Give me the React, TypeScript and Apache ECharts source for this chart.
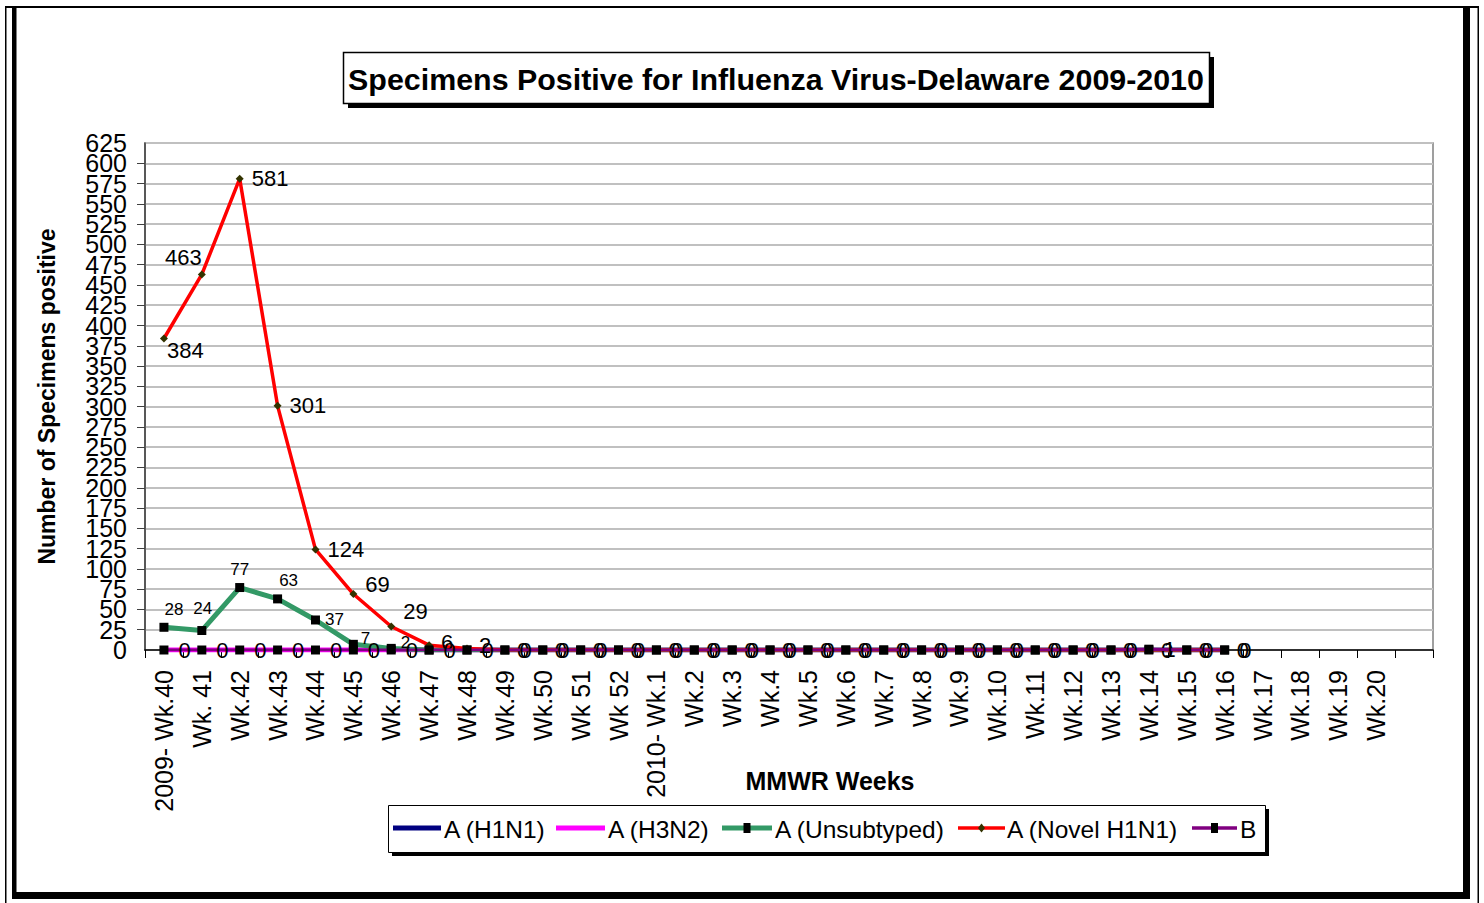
import { useEffect, useRef } from "react";
import * as echarts from "echarts";

const categories = [
  "2009- Wk.40", "Wk. 41", "Wk.42", "Wk.43", "Wk.44", "Wk.45", "Wk.46", "Wk.47",
  "Wk.48", "Wk.49", "Wk.50", "Wk 51", "Wk 52", "2010- Wk.1", "Wk.2", "Wk.3",
  "Wk.4", "Wk.5", "Wk.6", "Wk.7", "Wk.8", "Wk.9", "Wk.10", "Wk.11", "Wk.12",
  "Wk.13", "Wk.14", "Wk.15", "Wk.16", "Wk.17", "Wk.18", "Wk.19", "Wk.20", "",
];

const h1n1 = [0, 0, 0, 0, 0, 0, 0, 0, 0, 0, 0, 0, 0, 0, 0, 0, 0, 0, 0, 0, 0, 0, 0, 0, 0, 0, 0, 0, 0];
const h3n2 = [0, 0, 0, 0, 0, 0, 0, 0, 0, 0, 0, 0, 0, 0, 0, 0, 0, 0, 0, 0, 0, 0, 0, 0, 0, 0, 0, 0, 0];
const unsubtyped = [28, 24, 77, 63, 37, 7, 2, 0, 0, 0, 0, 0, 0, 0, 0, 0, 0, 0, 0, 0, 0, 0, 0, 0, 0, 0, 0, 0, 0];
const novelH1N1 = [384, 463, 581, 301, 124, 69, 29, 6, 2, 0, 0, 0, 0, 0, 0, 0, 0, 0, 0, 0, 0, 0, 0, 0, 0, 0, 0, 0, 0];
const typeB = [0, 0, 0, 0, 0, 0, 0, 0, 0, 0, 0, 0, 0, 0, 0, 0, 0, 0, 0, 0, 0, 0, 0, 0, 0, 0, 1, 0, 0];

const seriesNames = ["A (H1N1)", "A (H3N2)", "A (Unsubtyped)", "A (Novel H1N1)", "B"];
const seriesColors = ["#000080", "#FF00FF", "#339966", "#FF0000", "#800080"];
const yTicks = { min: 0, max: 625, interval: 25 };

const FONT = "'Liberation Sans', Arial, sans-serif";

// label placement tweaks (styles, not data)
const redOffsets: Record<number, { pos: string; off: number[] }> = {
  0: { pos: "right", off: [-9, 12] },
  1: { pos: "left", off: [12, -17] },
  5: { pos: "right", off: [0, -10] },
  6: { pos: "right", off: [0, -15] },
  7: { pos: "right", off: [0, -3] },
  8: { pos: "right", off: [0, -3] },
};
const greenOffsets: Record<number, { pos: string; off: number[] }> = {
  0: { pos: "top", off: [10, 0] },
  1: { pos: "top", off: [1, -4] },
  3: { pos: "top", off: [11, 0] },
  4: { pos: "right", off: [0, 0] },
  5: { pos: "right", off: [-2, -6] },
  6: { pos: "right", off: [0, -6] },
};

// legend layout (pixel styling)
const legendItems = [
  { x0: 393, x1: 441, tx: 444, w: 5, marker: "none" },
  { x0: 556, x1: 605, tx: 608, w: 5, marker: "none" },
  { x0: 722, x1: 772, tx: 775, w: 5, marker: "square" },
  { x0: 958, x1: 1005, tx: 1007, w: 3.5, marker: "diamond" },
  { x0: 1192, x1: 1237, tx: 1240, w: 3.5, marker: "square" },
];
const LEG_Y = 828;

export default function App() {
  const ref = useRef<HTMLDivElement>(null);
  useEffect(() => {
    if (!ref.current) return;
    const chart = echarts.init(ref.current, null, { renderer: "svg" });

    const zeroLabel = {
      show: true,
      position: "right",
      distance: 10,
      color: "#000",
      fontSize: 22,
      fontFamily: FONT,
    };

    const redData = novelH1N1.map((v, i) =>
      redOffsets[i]
        ? { value: v, label: { position: redOffsets[i].pos, offset: redOffsets[i].off } }
        : v
    );
    const greenData = unsubtyped.map((v, i) =>
      greenOffsets[i]
        ? { value: v, label: { position: greenOffsets[i].pos, offset: greenOffsets[i].off } }
        : v
    );

    const legendGraphics: any[] = [];
    legendItems.forEach((it, i) => {
      legendGraphics.push({
        type: "line", z: 5,
        shape: { x1: it.x0, y1: LEG_Y, x2: it.x1, y2: LEG_Y },
        style: { stroke: seriesColors[i], lineWidth: it.w },
      });
      const cx = (it.x0 + it.x1) / 2;
      if (it.marker === "square") {
        legendGraphics.push({
          type: "rect", z: 6,
          shape: { x: cx - 3.5, y: LEG_Y - 5, width: 7, height: 10 },
          style: { fill: "#000" },
        });
      } else if (it.marker === "diamond") {
        legendGraphics.push({
          type: "polygon", z: 6,
          shape: { points: [[cx, LEG_Y - 4.5], [cx + 3.5, LEG_Y], [cx, LEG_Y + 4.5], [cx - 3.5, LEG_Y]] },
          style: { fill: "#333300" },
        });
      }
      legendGraphics.push({
        type: "text", z: 6, x: it.tx, y: LEG_Y + 1,
        style: {
          text: seriesNames[i], fontSize: 24.5, fontFamily: FONT, fill: "#000",
          textAlign: "left", textVerticalAlign: "middle",
        },
      });
    });

    const yBase = {
      type: "value",
      min: yTicks.min,
      max: yTicks.max,
      interval: yTicks.interval,
      position: "left",
      offset: 0,
    };

    const option: any = {
      animation: false,
      backgroundColor: "#fff",
      textStyle: { fontFamily: FONT },
      graphic: [
        // outer frame
        { type: "rect", z: 0, shape: { x: 5, y: 6, width: 1474, height: 2 }, style: { fill: "#000" } },
        { type: "rect", z: 0, shape: { x: 5, y: 6, width: 1.5, height: 897 }, style: { fill: "#000" } },
        { type: "rect", z: 0, shape: { x: 1477.5, y: 6, width: 1.5, height: 897 }, style: { fill: "#000" } },
        { type: "rect", z: 0, shape: { x: 12, y: 6, width: 4.5, height: 893 }, style: { fill: "#000" } },
        { type: "rect", z: 0, shape: { x: 1463, y: 6, width: 7, height: 893 }, style: { fill: "#000" } },
        { type: "rect", z: 0, shape: { x: 12, y: 892, width: 1458, height: 7 }, style: { fill: "#000" } },
        // title box
        { type: "rect", z: 0, shape: { x: 348, y: 57, width: 866, height: 51 }, style: { fill: "#000" } },
        { type: "rect", z: 1, shape: { x: 343.5, y: 52.5, width: 866, height: 51 }, style: { fill: "#fff", stroke: "#000", lineWidth: 1.5 } },
        {
          type: "text", z: 2, x: 776, y: 79,
          style: {
            text: "Specimens Positive for Influenza Virus-Delaware 2009-2010",
            fontSize: 30.4, fontWeight: "bold", fontFamily: FONT, fill: "#000",
            textAlign: "center", textVerticalAlign: "middle",
          },
        },
        // legend box
        { type: "rect", z: 0, shape: { x: 392, y: 809, width: 877, height: 47 }, style: { fill: "#000" } },
        { type: "rect", z: 1, shape: { x: 388.5, y: 805.5, width: 877, height: 47 }, style: { fill: "#fff", stroke: "#000", lineWidth: 1 } },
        ...legendGraphics,
      ],
      grid: {
        left: 145, right: 51, top: 143, bottom: 253,
        show: true, borderColor: "#808080", borderWidth: 1.5, backgroundColor: "transparent",
      },
      xAxis: {
        type: "category",
        data: categories,
        boundaryGap: true,
        name: "MMWR Weeks",
        nameLocation: "middle",
        nameGap: 118,
        nameMoveOverlap: false,
        nameTextStyle: {
          fontSize: 25, fontWeight: "bold", color: "#000", fontFamily: FONT,
          padding: [0, 0, 0, 82],
        },
        axisLine: { lineStyle: { color: "#000", width: 1.5 } },
        axisTick: { show: true, length: 8, lineStyle: { color: "#000" } },
        axisLabel: {
          rotate: 90, interval: 0, margin: 20, fontSize: 25, color: "#000", fontFamily: FONT,
          hideOverlap: false,
        },
        splitLine: { show: false },
      },
      yAxis: [
        {
          ...yBase,
          name: "Number of Specimens positive",
          nameLocation: "middle",
          nameRotate: 90,
          nameGap: 87,
          nameMoveOverlap: false,
          nameTextStyle: { fontSize: 23, fontWeight: "bold", color: "#000", fontFamily: FONT },
          axisLine: { show: true, lineStyle: { color: "#404040", width: 1.5 } },
          axisTick: { show: true, length: 8, lineStyle: { color: "#404040" } },
          axisLabel: {
            margin: 18, fontSize: 25, color: "#000", fontFamily: FONT,
            showMinLabel: false, showMaxLabel: false, hideOverlap: false,
          },
          splitLine: { show: true, lineStyle: { color: "#C0C0C0", width: 2 } },
        },
        {
          ...yBase,
          axisLine: { show: false },
          axisTick: { show: false },
          splitLine: { show: false },
          axisLabel: {
            margin: 18, fontSize: 25, color: "#000", fontFamily: FONT,
            showMinLabel: true, showMaxLabel: true, hideOverlap: false,
            formatter: (v: number) => (v === yTicks.min || v === yTicks.max ? String(v) : ""),
          },
        },
      ],
      series: [
        {
          name: seriesNames[0], type: "line", data: h1n1, symbol: "none",
          lineStyle: { color: seriesColors[0], width: 4 }, itemStyle: { color: seriesColors[0] },
          label: zeroLabel, z: 2,
        },
        {
          name: seriesNames[1], type: "line", data: h3n2, symbol: "none",
          lineStyle: { color: seriesColors[1], width: 5 }, itemStyle: { color: seriesColors[1] },
          label: zeroLabel, z: 2,
        },
        {
          name: seriesNames[2], type: "line", data: greenData, symbol: "rect", symbolSize: 9,
          lineStyle: { color: seriesColors[2], width: 5 }, itemStyle: { color: "#000", borderWidth: 0 },
          label: {
            show: true, position: "top", distance: 5, fontSize: 17, color: "#000", fontFamily: FONT,
            formatter: (p: any) => (p.value === 0 ? "" : String(p.value)),
          },
          z: 3,
        },
        {
          name: seriesNames[3], type: "line", data: redData, symbol: "diamond", symbolSize: 8,
          lineStyle: { color: seriesColors[3], width: 3.5 }, itemStyle: { color: "#333300", borderWidth: 0 },
          label: { show: true, position: "right", distance: 8, fontSize: 22, color: "#000", fontFamily: FONT },
          z: 4,
        },
        {
          name: seriesNames[4], type: "line", data: typeB, symbol: "rect", symbolSize: 9,
          lineStyle: { color: seriesColors[4], width: 3 }, itemStyle: { color: "#000", borderWidth: 0 },
          label: zeroLabel, z: 5,
        },
      ],
    };
    chart.setOption(option);
    return () => chart.dispose();
  }, []);
  return (
    <div
      ref={ref}
      style={{ position: "fixed", left: 0, top: 0, width: 1484, height: 903, background: "#fff" }}
    />
  );
}
